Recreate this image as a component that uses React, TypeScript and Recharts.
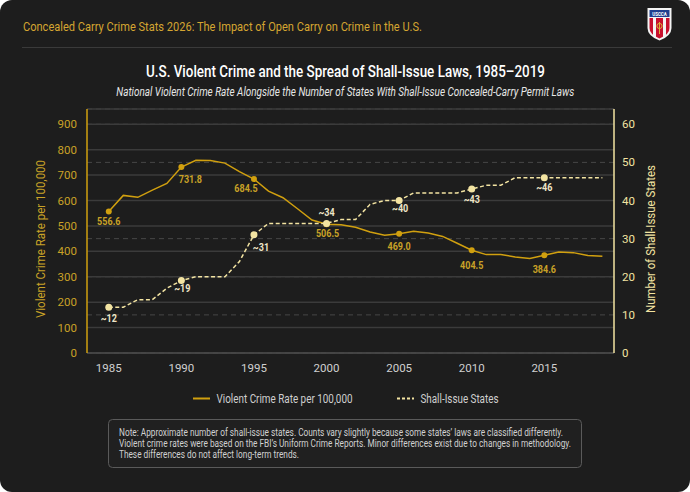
import { LineChart, Line, XAxis, YAxis, CartesianGrid } from "recharts";

const YEARS = [
  1985, 1986, 1987, 1988, 1989, 1990, 1991, 1992, 1993, 1994, 1995, 1996, 1997, 1998, 1999, 2000, 2001, 2002,
  2003, 2004, 2005, 2006, 2007, 2008, 2009, 2010, 2011, 2012, 2013, 2014, 2015, 2016, 2017, 2018, 2019,
];

// violent crimes per 100,000 residents
const CRIME_RATE = [
  556.6, 620.1, 612.5, 640.6, 666.9, 731.8, 758.2, 757.7, 747.1, 713.6, 684.5, 636.6, 611.0, 567.6, 523.0, 506.5,
  504.5, 494.4, 475.8, 463.2, 469.0, 479.3, 471.8, 458.6, 431.9, 404.5, 387.1, 387.8, 378.0, 372.0, 384.6, 397.5,
  394.9, 383.4, 380.8,
];

// approximate count of shall-issue states
const SHALL_ISSUE_STATES = [
  12, 12, 14, 14, 17, 19, 20, 20, 20, 24, 31, 34, 34, 34, 34, 34, 35, 35, 39, 40, 40, 42, 42, 42, 42, 43, 44, 44, 46,
  46, 46, 46, 46, 46, 46,
];

const X_TICKS = [1985, 1990, 1995, 2000, 2005, 2010, 2015];
const LEFT_TICKS = [0, 100, 200, 300, 400, 500, 600, 700, 800, 900];
const RIGHT_TICKS = [0, 10, 20, 30, 40, 50, 60];

// label offsets from the point (dx, dy), only the five-year marks get a dot and a label
const CRIME_LABEL_OFFSETS: Record<number, [number, number]> = {
  1985: [0, 10],
  1990: [9, 12],
  1995: [-8, 9],
  2000: [1, 9],
  2005: [0, 12],
  2010: [0, 15],
  2015: [0, 14],
};
const STATES_LABEL_OFFSETS: Record<number, [number, number]> = {
  1985: [0, 11],
  1990: [1, 8],
  1995: [7, 12],
  2000: [0, -11],
  2005: [1, 8],
  2010: [0, 10],
  2015: [0, 10],
};

const GOLD = "#d1a00f";
const GOLD_TEXT = "#c9a227";
const PALE = "#f3e4a2";
const BG = "#1d1d1d";
const FONT = "Roboto, sans-serif";

const chartData = YEARS.map((year, i) => ({
  year,
  crime: CRIME_RATE[i],
  states: SHALL_ISSUE_STATES[i],
}));

const makeDot =
  (color: string, r: number, offsets: Record<number, [number, number]>, textColor: string, fmt: (v: number) => string) =>
  (props: any) => {
    const { cx, cy, index, value } = props;
    const year = YEARS[index];
    const off = offsets[year];
    if (!off || cx == null || cy == null) return <g key={`dot-${index}`} />;
    const v = Array.isArray(value) ? value[1] : value;
    return (
      <g key={`dot-${index}`}>
        <circle cx={cx} cy={cy} r={r} fill={color} />
        <text
          transform={`translate(${cx + off[0]},${cy + off[1]}) scale(0.86 1)`}
          textAnchor="middle"
          dominantBaseline="central"
          fontFamily={FONT}
          fontSize={10.5}
          fontWeight={700}
          fill={textColor}
        >
          {fmt(v)}
        </text>
      </g>
    );
  };

const crimeDot = makeDot(GOLD, 3, CRIME_LABEL_OFFSETS, GOLD_TEXT, (v) => v.toFixed(1));
const statesDot = makeDot(PALE, 3.5, STATES_LABEL_OFFSETS, "#efe6c8", (v) => `~${v}`);

const LEGEND_ITEMS = [
  { label: "Violent Crime Rate per 100,000", color: GOLD, dash: undefined, x: 193, textWidth: 136 },
  { label: "Shall-Issue States", color: PALE, dash: "3 2", x: 397, textWidth: 78 },
];

const NOTE_LINES = [
  { text: "Note: Approximate number of shall-issue states. Counts vary slightly because some states’ laws are classified differently.", width: 444 },
  { text: "Violent crime rates were based on the FBI’s Uniform Crime Reports. Minor differences exist due to changes in methodology.", width: 452 },
  { text: "These differences do not affect long-term trends.", width: 180 },
];

const Shield = () => (
  <g>
    <path d="M647.5,8 L671.5,8 L671.5,28 Q671.5,36 659.5,40.5 Q647.5,36 647.5,28 Z" fill="#f4f4f4" />
    <rect x={649.5} y={10} width={20} height={7} fill="#1f3f8f" />
    <text x={659.5} y={15.5} textAnchor="middle" fontFamily={FONT} fontSize={4.5} fontWeight={700} fill="#fff">
      USCCA
    </text>
    <path d="M649.5,18 L669.5,18 L669.5,28 Q669.5,34.5 659.5,38.5 Q649.5,34.5 649.5,28 Z" fill="#c8102e" />
    <rect x={653} y={18} width={3} height={19} fill="#f4f4f4" />
    <rect x={663} y={18} width={3} height={19} fill="#f4f4f4" />
    <circle cx={659.5} cy={26} r={2.6} fill="none" stroke="#d8b23a" strokeWidth={1} />
    <rect x={659} y={22} width={1} height={12} fill="#d8b23a" />
  </g>
);

export default function App() {
  return (
    <div style={{ position: "fixed", left: 0, top: 0, width: 690, height: 492, background: "#ffffff" }}>
      <div
        style={{ position: "absolute", left: 0, top: 0, width: 690, height: 492, borderRadius: 12, background: BG }}
      />
      <svg width={690} height={492} style={{ position: "absolute", left: 0, top: 0 }} fontFamily={FONT}>
        <text x={23} y={31} fontSize={13} fill="#d4a531" textLength={399} lengthAdjust="spacingAndGlyphs">
          Concealed Carry Crime Stats 2026: The Impact of Open Carry on Crime in the U.S.
        </text>
        <Shield />
        <line x1={22} x2={672} y1={47.5} y2={47.5} stroke="#3a3a3a" strokeWidth={1} />
        <text
          x={345.5}
          y={77}
          textAnchor="middle"
          fontSize={16.5}
          fontWeight={500}
          fill="#ffffff"
          textLength={399}
          lengthAdjust="spacingAndGlyphs"
        >
          U.S. Violent Crime and the Spread of Shall-Issue Laws, 1985–2019
        </text>
        <text
          x={345.3}
          y={95.5}
          textAnchor="middle"
          fontSize={12}
          fontStyle="italic"
          fill="#e6e6e6"
          textLength={458}
          lengthAdjust="spacingAndGlyphs"
        >
          National Violent Crime Rate Alongside the Number of States With Shall-Issue Concealed-Carry Permit Laws
        </text>

        <text
          transform="translate(40,239) rotate(-90)"
          textAnchor="middle"
          dominantBaseline="central"
          fontSize={12.5}
          fill={GOLD_TEXT}
          textLength={158}
          lengthAdjust="spacingAndGlyphs"
        >
          Violent Crime Rate per 100,000
        </text>
        <text
          transform="translate(650.5,239) rotate(-90)"
          textAnchor="middle"
          dominantBaseline="central"
          fontSize={12.5}
          fill={PALE}
          textLength={148}
          lengthAdjust="spacingAndGlyphs"
        >
          Number of Shall-Issue States
        </text>

        {LEGEND_ITEMS.map((item) => (
          <g key={item.label}>
            <line
              x1={item.x}
              x2={item.x + 17}
              y1={398.5}
              y2={398.5}
              stroke={item.color}
              strokeWidth={2}
              strokeDasharray={item.dash}
            />
            <text
              x={item.x + 23.5}
              y={403}
              fontSize={12}
              fill="#cfcfcf"
              textLength={item.textWidth}
              lengthAdjust="spacingAndGlyphs"
            >
              {item.label}
            </text>
          </g>
        ))}

        <rect x={108.5} y={419.5} width={473} height={48} rx={4} fill="#202020" stroke="#5a5a5a" strokeWidth={1} />
        {NOTE_LINES.map((line, i) => (
          <text
            key={i}
            x={119}
            y={436 + i * 11}
            fontSize={10}
            fill="#d0d0d0"
            textLength={line.width}
            lengthAdjust="spacingAndGlyphs"
          >
            {line.text}
          </text>
        ))}
      </svg>

      <LineChart
        width={690}
        height={383}
        data={chartData}
        margin={{ top: 109, right: 26, bottom: 0, left: 37 }}
        style={{ position: "absolute", left: 0, top: 0, fontFamily: FONT }}
      >
        <CartesianGrid yAxisId="right" vertical={false} stroke="#474747" strokeDasharray="5 4" />
        <CartesianGrid yAxisId="left" vertical={false} stroke="#3b3b3b" strokeWidth={1.5} />
        <XAxis
          dataKey="year"
          type="number"
          domain={[1983.5, 2019.8]}
          ticks={X_TICKS}
          height={30}
          tickSize={0}
          tickMargin={11}
          axisLine={{ stroke: "#4a4a4a", strokeWidth: 1.5 }}
          tick={{ fill: "#d0d0d0", fontSize: 11.5, fontFamily: FONT }}
        />
        <YAxis
          yAxisId="left"
          domain={[0, 960]}
          ticks={LEFT_TICKS}
          width={50}
          tickSize={0}
          tickMargin={10}
          axisLine={{ stroke: GOLD, strokeWidth: 1.5 }}
          tick={{ fill: GOLD_TEXT, fontSize: 11.5, fontFamily: FONT }}
        />
        <YAxis
          yAxisId="right"
          orientation="right"
          domain={[0, 64]}
          ticks={RIGHT_TICKS}
          width={50}
          tickSize={0}
          tickMargin={8}
          axisLine={{ stroke: PALE, strokeWidth: 1.5 }}
          tick={{ fill: PALE, fontSize: 11.5, fontFamily: FONT }}
        />
        <Line
          yAxisId="left"
          type="linear"
          dataKey="crime"
          stroke={GOLD}
          strokeWidth={1.5}
          dot={crimeDot}
          activeDot={false}
          isAnimationActive={false}
        />
        <Line
          yAxisId="right"
          type="linear"
          dataKey="states"
          stroke={PALE}
          strokeWidth={1.5}
          strokeDasharray="4 2.5"
          dot={statesDot}
          activeDot={false}
          isAnimationActive={false}
        />
      </LineChart>
    </div>
  );
}
